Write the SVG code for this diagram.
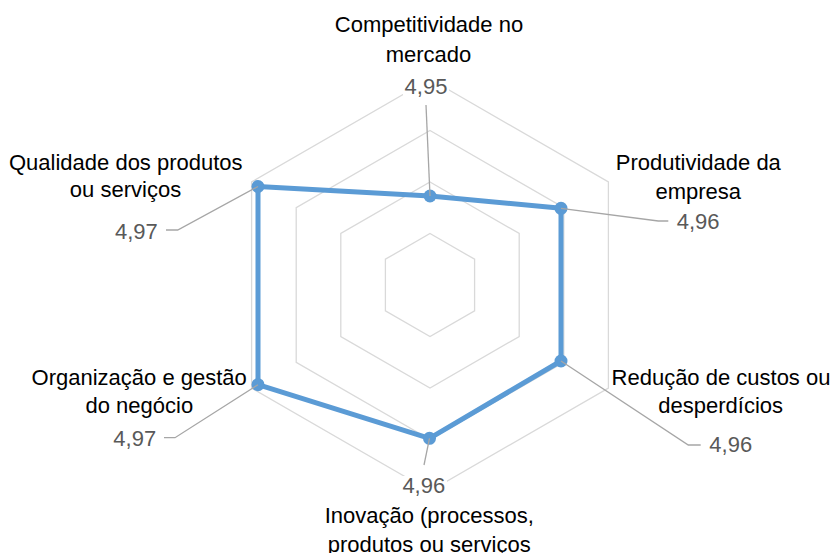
<svg xmlns="http://www.w3.org/2000/svg" width="830" height="553" viewBox="0 0 830 553">
<style>
.ring{fill:none;stroke:#d9d9d9;stroke-width:1.3}
.series{fill:none;stroke:#5b9bd5;stroke-width:5;stroke-linejoin:round}
.mk{fill:#5b9bd5}
.lead{fill:none;stroke:#a6a6a6;stroke-width:1.3}
.lbl{font-family:"Liberation Sans",Arial,sans-serif;font-size:22px;fill:#000}
.val{font-family:"Liberation Sans",Arial,sans-serif;font-size:22px;fill:#595959}
.bg{fill:#fff}
</style>
<rect width="830" height="553" fill="#fff"/>
<g id="grid">
<polygon class="ring" points="430,233.5 474.6,259.25 474.6,310.75 430,336.5 385.4,310.75 385.4,259.25"/>
<polygon class="ring" points="430,182 519.2,233.5 519.2,336.5 430,388 340.8,336.5 340.8,233.5"/>
<polygon class="ring" points="430,130.5 563.8,207.75 563.8,362.25 430,439.5 296.2,362.25 296.2,207.75"/>
<polygon class="ring" points="430,79 608.4,182 608.4,388 430,491 251.6,388 251.6,182"/>
</g>
<g id="series">
<polygon class="series" points="430,196 561,208.3 561,361 429.5,438.3 258,384.7 258,186.5"/>
<circle class="mk" cx="430" cy="196" r="6.5"/>
<circle class="mk" cx="561" cy="208.3" r="6.5"/>
<circle class="mk" cx="561" cy="361" r="6.5"/>
<circle class="mk" cx="429.5" cy="438.3" r="6.5"/>
<circle class="mk" cx="258" cy="384.7" r="6.5"/>
<circle class="mk" cx="258" cy="186.5" r="6.5"/>
</g>
<g id="connectors">
<polyline class="lead" points="430,196 426,105"/>
<polyline class="lead" points="561,208.3 658.3,221 668.3,221"/>
<polyline class="lead" points="561,361 688.3,445 700.7,445"/>
<polyline class="lead" points="429.5,438.3 424,465"/>
<polyline class="lead" points="258,384.7 175,437.7 164,437.7"/>
<polyline class="lead" points="258,186.5 177.7,230 166,230"/>
</g>
<g id="node-competitividade">
<text class="lbl" x="429" y="32" text-anchor="middle">Competitividade no</text>
<text class="lbl" x="428.5" y="61.5" text-anchor="middle">mercado</text>
<rect class="bg" x="403" y="78" width="46" height="20"/>
<text class="val" x="426" y="94.3" text-anchor="middle">4,95</text>
</g>
<g id="node-produtividade">
<text class="lbl" x="698.3" y="170" text-anchor="middle">Produtividade da</text>
<text class="lbl" x="698.3" y="198.5" text-anchor="middle">empresa</text>
<text class="val" x="676.7" y="229.3">4,96</text>
</g>
<g id="node-reducao">
<text class="lbl" x="721" y="385" text-anchor="middle">Redução de custos ou</text>
<text class="lbl" x="720.7" y="413.3" text-anchor="middle">desperdícios</text>
<text class="val" x="709.3" y="451.7">4,96</text>
</g>
<g id="node-inovacao">
<rect class="bg" x="401" y="476" width="46" height="20"/>
<text class="val" x="423.8" y="493.3" text-anchor="middle">4,96</text>
<text class="lbl" x="429.2" y="523.3" text-anchor="middle">Inovação (processos,</text>
<text class="lbl" x="429.2" y="552" text-anchor="middle">produtos ou serviços</text>
</g>
<g id="node-organizacao">
<text class="lbl" x="139.2" y="385" text-anchor="middle">Organização e gestão</text>
<text class="lbl" x="139.3" y="413.3" text-anchor="middle">do negócio</text>
<text class="val" x="113.3" y="446">4,97</text>
</g>
<g id="node-qualidade">
<text class="lbl" x="125.8" y="170" text-anchor="middle">Qualidade dos produtos</text>
<text class="lbl" x="125.5" y="197.3" text-anchor="middle">ou serviços</text>
<text class="val" x="115" y="239.3">4,97</text>
</g>
</svg>
